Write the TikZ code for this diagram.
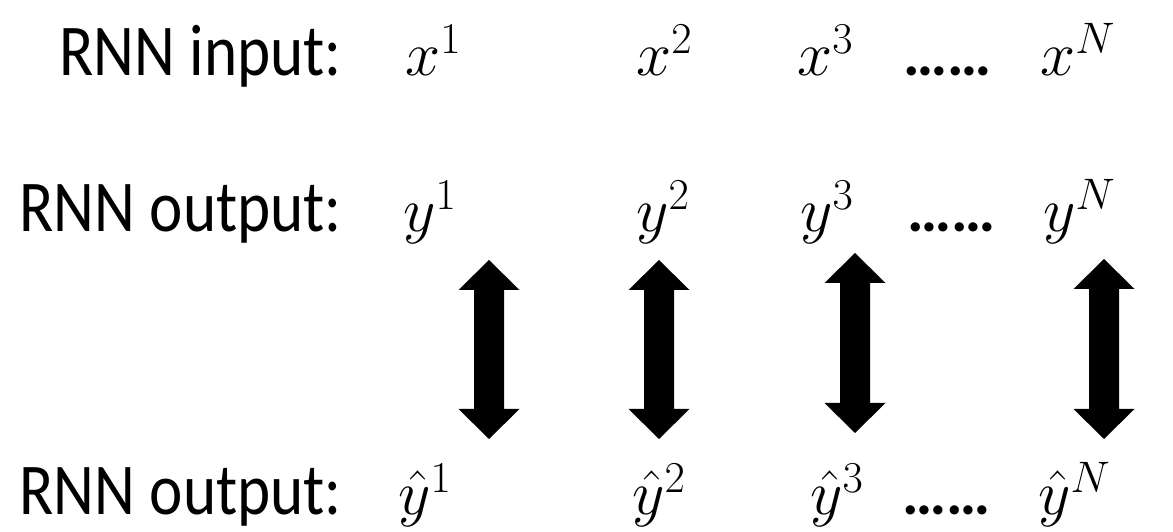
\RequirePackage{fix-cm}
\documentclass[tikz,border=0pt]{standalone}
\usepackage{fontspec}
\setmainfont{Carlito}
\newfontfamily\lblfont[FakeStretch=0.865]{Carlito}
\usetikzlibrary{calc}

\tikzset{
  lbl/.style={inner sep=0pt, anchor=base east, font=\lblfont\fontsize{73}{80}\selectfont},
  var/.style={inner sep=0pt, anchor=base west, font=\fontsize{63}{70}\selectfont},
  dots/.style={inner sep=0pt, anchor=base west, font=\fontsize{62}{70}\selectfont\bfseries},
  dblarrow/.style={fill=black, to path={
    (\tikztostart) -- ($(\tikztostart)+(30.5,-30)$) -- ($(\tikztostart)+(15,-30)$)
    -- ($(\tikztotarget)+(15,30)$) -- ($(\tikztotarget)+(30.5,30)$) -- (\tikztotarget)
    -- ($(\tikztotarget)+(-30.5,30)$) -- ($(\tikztotarget)+(-15,30)$)
    -- ($(\tikztostart)+(-15,-30)$) -- ($(\tikztostart)+(-30.5,-30)$) -- cycle}}
}

\begin{document}
\begin{tikzpicture}[x=1pt,y=1pt]
  \useasboundingbox (0,0) rectangle (1173,532);

  % row labels
  \node[lbl] (lin)   at (342,456) {RNN input:};
  \node[lbl] (lout)  at (342,300) {RNN output:};
  \node[lbl] (lhat)  at (342,17)  {RNN output:};

  % input sequence
  \node[var]  (x1) at (405,456)  {$x^1$};
  \node[var]  (x2) at (636,456)  {$x^2$};
  \node[var]  (x3) at (797,456)  {$x^3$};
  \node[dots] (xd) at (903,456)  {……};
  \node[var]  (xN) at (1040,456) {$x^N$};

  % output sequence
  \node[var]  (y1) at (403,300)  {$y^1$};
  \node[var]  (y2) at (636,300)  {$y^2$};
  \node[var]  (y3) at (800,300)  {$y^3$};
  \node[dots] (yd) at (907,300)  {……};
  \node[var]  (yN) at (1043,300) {$y^N$};

  % target sequence
  \node[var]  (h1) at (398,17)  {$\hat{y}^1$};
  \node[var]  (h2) at (632,17)  {$\hat{y}^2$};
  \node[var]  (h3) at (810,17)  {$\hat{y}^3$};
  \node[dots] (hd) at (902,17)  {……};
  \node[var]  (hN) at (1038,17) {$\hat{y}^N$};

  % arrow ends
  \coordinate (a1t) at (489,272);  \coordinate (a1b) at (489,93);
  \coordinate (a2t) at (659,272);  \coordinate (a2b) at (659,93);
  \coordinate (a3t) at (855,279);  \coordinate (a3b) at (855,99);
  \coordinate (aNt) at (1104,273); \coordinate (aNb) at (1104,93);

  \path[dblarrow] (a1t) to (a1b);
  \path[dblarrow] (a2t) to (a2b);
  \path[dblarrow] (a3t) to (a3b);
  \path[dblarrow] (aNt) to (aNb);
\end{tikzpicture}
\end{document}
